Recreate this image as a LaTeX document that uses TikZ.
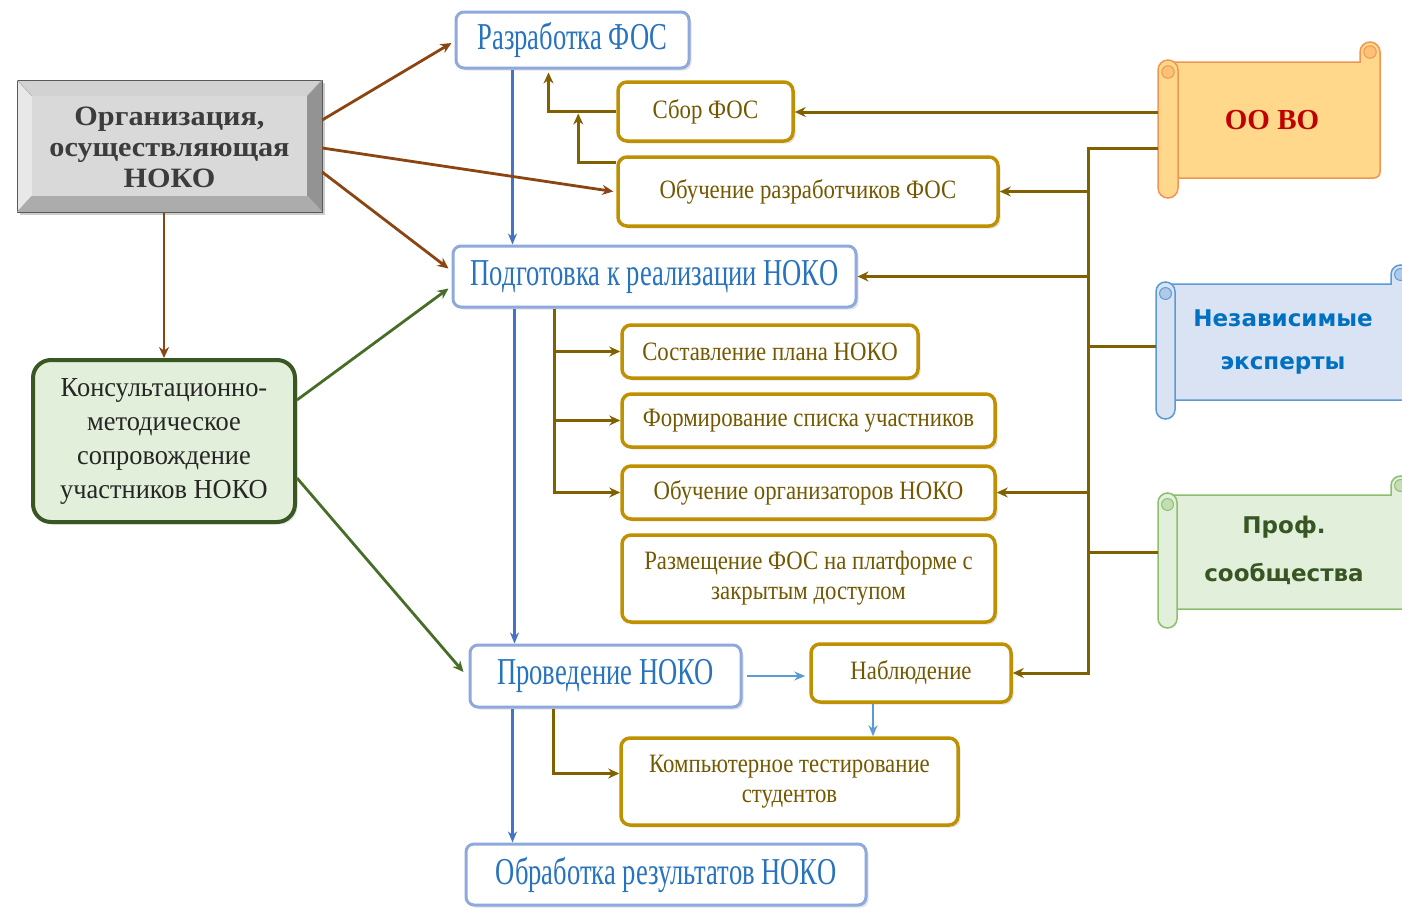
\documentclass[tikz,border=0pt]{standalone}
\usepackage{fontspec}
\setmainfont{Liberation Serif}
\newfontfamily\headfont[FakeStretch=0.70]{Liberation Serif}
\newfontfamily\bodyfont[FakeStretch=0.86]{Liberation Serif}
\newfontfamily\konsfont[FakeStretch=0.96]{Liberation Serif}
\newfontfamily\orgfont[FakeStretch=1.08]{Liberation Serif}
\newfontfamily\scrfont{DejaVu Sans}
\usetikzlibrary{arrows.meta,calc,shadows}

\definecolor{hblue}{RGB}{142,169,219}
\definecolor{htext}{RGB}{40,115,190}
\definecolor{gold}{RGB}{191,144,0}
\definecolor{olivetext}{RGB}{115,88,0}
\definecolor{oline}{RGB}{128,96,0}
\definecolor{brownline}{RGB}{139,69,19}
\definecolor{greenline}{RGB}{70,110,40}
\definecolor{konsdraw}{RGB}{56,87,35}
\definecolor{konsfill}{RGB}{226,239,218}
\definecolor{bline}{RGB}{68,114,196}
\definecolor{lbline}{RGB}{91,155,213}
\definecolor{orgtext}{RGB}{60,60,60}
\definecolor{oofill}{RGB}{255,216,140}
\definecolor{oodraw}{RGB}{240,150,80}
\definecolor{ootext}{RGB}{192,0,0}
\definecolor{nezfill}{RGB}{218,227,243}
\definecolor{nezdraw}{RGB}{91,155,213}
\definecolor{neztext}{RGB}{0,112,192}
\definecolor{proffill}{RGB}{226,239,218}
\definecolor{profdraw}{RGB}{140,190,110}
\definecolor{proftext}{RGB}{55,86,35}

\newcommand\myscroll[7]{%
  \filldraw[fill=#6, draw=#7, line width=1.5pt]
    (#1+#5/2, #2) -- (#3-#5, #2) -- (#3-#5, #2-#5/2)
    arc[start angle=180, end angle=360, radius=#5/2]
    -- (#3, #4-6) arc[start angle=0, end angle=90, radius=6]
    -- (#1+#5/2, #4) -- cycle;
  \filldraw[fill=#7!35!#6, draw=#7, line width=1pt]
    (#3-#5/2, #2-#5/2) circle[radius=#5/3.2];
  \draw[#7, line width=1pt] (#3-#5, #2-#5/2) -- (#3-#5, #2);
  \filldraw[fill=#6, draw=#7, line width=1.5pt, rounded corners=#5/2]
    (#1, #2-2) rectangle (#1+#5, #4+#5);
  \filldraw[fill=#7!35!#6, draw=#7, line width=1pt]
    (#1+#5/2, #2+#5/2) circle[radius=#5/3.2];
}

\tikzset{
  boxshadow/.style={drop shadow={opacity=0.22, shadow xshift=2.5pt, shadow yshift=-2.5pt}},
  hbox/.style={draw=hblue, line width=3pt, rounded corners=8pt, fill=white, text=htext,
    font=\headfont\fontsize{38}{40}\selectfont, inner sep=0pt, boxshadow},
  gbox/.style={draw=gold, line width=3.5pt, rounded corners=9pt, fill=white, text=olivetext,
    font=\bodyfont\fontsize{26.5}{30}\selectfont, align=center, inner sep=0pt, boxshadow},
  kbox/.style={draw=konsdraw, line width=4pt, rounded corners=18pt, fill=konsfill, text=black!85,
    font=\konsfont\fontsize{27.5}{34}\selectfont, align=center, inner sep=0pt, boxshadow},
  oarr/.style={draw=oline, line width=3pt, -{Stealth[length=11pt,width=10pt]}},
  oplain/.style={draw=oline, line width=3pt},
  brarr/.style={draw=brownline, line width=2.8pt, -{Stealth[length=11pt,width=10pt]}},
  grarr/.style={draw=greenline, line width=2.8pt, -{Stealth[length=11pt,width=10pt]}},
  barr/.style={draw=bline, line width=2.4pt, -{Stealth[length=11pt,width=9pt]}},
  lbarr/.style={draw=lbline, line width=1.6pt, -{Stealth[length=11pt,width=9pt]}},
  scrtext/.style={font=\scrfont\bfseries\fontsize{23}{43}\selectfont, align=center, inner sep=0pt},
}

\begin{document}
\begin{tikzpicture}[x=1pt, y=-1pt]
\fill[white] (0,0) rectangle (1402,908);
\clip (0,0) rectangle (1402,908);

% ---- beveled organisation box
\fill[black, opacity=0.2] (20,83) rectangle (325,215);
\fill[gray!35] (17,80) -- (322,80) -- (307,96) -- (32,96) -- cycle;
\fill[gray!18] (17,80) -- (32,96) -- (32,196) -- (17,212) -- cycle;
\fill[gray!85] (322,80) -- (307,96) -- (307,196) -- (322,212) -- cycle;
\fill[gray!65] (17,212) -- (32,196) -- (307,196) -- (322,212) -- cycle;
\fill[gray!30] (32,96) rectangle (307,196);
\draw[gray!70!black, line width=1pt] (17,80) rectangle (322,212);
\draw[gray!60, line width=0.6pt] (17,80) -- (32,96) (322,80) -- (307,96) (17,212) -- (32,196) (322,212) -- (307,196);
\node[minimum width=305pt, minimum height=132pt, inner sep=0pt, text=orgtext, align=center,
  font=\orgfont\bfseries\fontsize{28}{31}\selectfont] (org) at (169.5,147)
  {Организация,\\осуществляющая\\НОКО};

% ---- scrolls
\myscroll{1158}{62}{1380}{178}{20}{oofill}{oodraw}
\myscroll{1156}{284}{1410}{400}{19}{nezfill}{nezdraw}
\myscroll{1158}{495}{1410}{609}{19}{proffill}{profdraw}
\node[font=\bfseries\fontsize{29}{32}\selectfont, text=ootext, inner sep=0pt] (oovo) at (1272,120) {ОО ВО};
\node[scrtext, text=neztext] (nez) at (1283,342) {Независимые\\эксперты};
\node[scrtext, text=proftext, font=\scrfont\bfseries\fontsize{23}{48}\selectfont] (prof) at (1284,550) {Проф.\\сообщества};

% ---- main nodes
\node[hbox, minimum width=233pt, minimum height=56pt] (razr) at (572.5,40) {Разработка ФОС};
\node[gbox, minimum width=175pt, minimum height=59pt] (sbor) at (705.5,111.5) {Сбор ФОС};
\node[gbox, minimum width=380pt, minimum height=69pt] (fos2) at (808,191.5) {Обучение разработчиков ФОС};
\node[hbox, minimum width=403pt, minimum height=61pt] (podg) at (654.5,276.5) {Подготовка к реализации НОКО};
\node[gbox, minimum width=296pt, minimum height=53pt] (plan) at (770,351.5) {Составление плана НОКО};
\node[gbox, minimum width=373pt, minimum height=53pt] (spis) at (808.5,420.5) {Формирование списка участников};
\node[gbox, minimum width=373pt, minimum height=53pt] (orgn) at (808.5,492.5) {Обучение организаторов НОКО};
\node[gbox, minimum width=373pt, minimum height=87pt] (razm) at (808.5,578.5) {Размещение ФОС на платформе с\\закрытым доступом};
\node[hbox, minimum width=271pt, minimum height=62pt] (prov) at (605.5,676) {Проведение НОКО};
\node[gbox, minimum width=200pt, minimum height=58pt] (nab) at (911,673) {Наблюдение};
\node[gbox, minimum width=337pt, minimum height=87pt] (kt) at (789.5,781.5) {Компьютерное тестирование\\студентов};
\node[hbox, minimum width=400pt, minimum height=61pt] (obr) at (666,874.5) {Обработка результатов НОКО};
\node[kbox, minimum width=262pt, minimum height=162pt] (kons) at (164,441)
  {Консультационно-\\методическое\\сопровождение\\участников НОКО};

% ---- coordinates
\coordinate (oo1) at (1158,112);
\coordinate (oo2) at (1158,148);
\coordinate (nezin) at (1156,346);
\coordinate (profin) at (1158,552);
\coordinate (bus) at (1088,148);
\coordinate (s1) at ($(razr.south west)+(94,0)$);
\coordinate (s2) at ($(sbor.west)+(-38,0)$);
\coordinate (p1) at ($(podg.south west)+(103,0)$);
\coordinate (p2) at ($(prov.south west)+(85,0)$);
\coordinate (b1) at ($(razr.south west)+(58,0)$);
\coordinate (b2) at ($(podg.south west)+(63,0)$);
\coordinate (b3) at ($(prov.south west)+(44,0)$);
\coordinate (n1) at ($(nab.south)+(-38,0)$);

% ---- olive connectors
\draw[oarr] (oo1) -- (oo1 -| sbor.east);
\draw[oarr] (oo2) -- (bus) |- (nab.east);
\foreach \n in {fos2,podg,orgn} { \draw[oarr] (bus |- \n.east) -- (\n.east); }
\draw[oplain] (bus |- nezin) -- (nezin);
\draw[oplain] (bus |- profin) -- (profin);
\draw[oarr, shorten >=3pt] (sbor.west) -| (s1);
\draw[oarr, shorten >=2pt] ($(fos2.north west)+(0,7)$) -| (s2);
\draw[oarr] (p1) |- (orgn.west);
\draw[oarr] (p1 |- plan.west) -- (plan.west);
\draw[oarr] (p1 |- spis.west) -- (spis.west);
\draw[oarr] (p2) |- ($(kt.west)+(0,-8)$);

% ---- blue connectors
\draw[barr] (b1) -- (b1 |- podg.north);
\draw[barr] (b2) -- (b2 |- prov.north);
\draw[barr] (b3) -- (b3 |- obr.north);
\draw[lbarr, shorten <=4pt, shorten >=4pt] (prov.east) -- (prov.east -| nab.west);
\draw[lbarr] (n1) -- (n1 |- kt.north);

% ---- brown connectors
\draw[brarr] ($(org.east)+(0,-27)$) -- ($(razr.west)+(-3,3)$);
\draw[brarr] ($(org.east)+(0,1)$) -- ($(fos2.west)+(-3,0)$);
\draw[brarr] ($(org.east)+(0,25)$) -- ($(podg.west)+(-3,-8)$);
\draw[brarr] (kons.north |- org.south) -- (kons.north);

% ---- green connectors
\draw[grarr] ($(kons.east)+(0,-41)$) -- ($(podg.west)+(-3,12)$);
\draw[grarr] ($(kons.east)+(0,37)$) -- ($(prov.west)+(-5,-4)$);
\end{tikzpicture}
\end{document}
